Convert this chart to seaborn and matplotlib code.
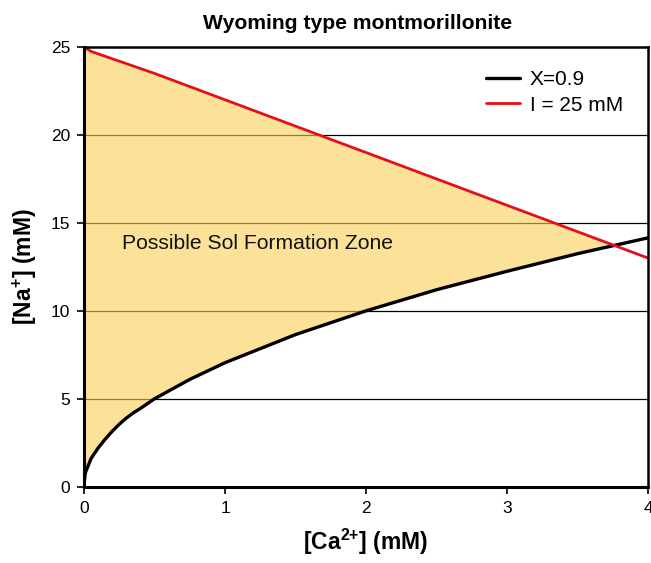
import numpy as np
import matplotlib
matplotlib.use("Agg")
import matplotlib.pyplot as plt
import seaborn as sns

# Calcium concentration (mM) and sodium concentration (mM) along X = 0.9
ca_x09 = [0, 0.005, 0.01, 0.02, 0.05, 0.1, 0.15, 0.2, 0.25, 0.3, 0.35, 0.4,
          0.5, 0.75, 1.0, 1.5, 2.0, 2.5, 3.0, 3.5, 4.0]
na_x09 = [0, 0.5, 0.8, 1.0, 1.6, 2.2, 2.7, 3.15, 3.55, 3.9, 4.2, 4.45,
          5.0, 6.1, 7.05, 8.65, 10.0, 11.2, 12.25, 13.25, 14.15]

# Ionic strength line, I = 25 mM
ca_i25 = [0, 0.05, 0.5, 1.0, 1.5, 2.0, 2.5, 3.0, 3.5, 4.0]
na_i25 = [25, 24.75, 23.5, 22.0, 20.5, 19.0, 17.5, 16.0, 14.5, 13.0]

x_ticks = [0, 1, 2, 3, 4]
y_ticks = [0, 5, 10, 15, 20, 25]

sns.set_theme(style="ticks")
plt.rcParams["font.family"] = ["Liberation Sans", "DejaVu Sans"]
plt.rcParams.update({
    "text.color": "black",
    "axes.labelcolor": "black",
    "xtick.color": "black",
    "ytick.color": "black",
    "mathtext.fontset": "custom",
    "mathtext.rm": "Liberation Sans",
    "mathtext.bf": "Liberation Sans:bold",
    "mathtext.it": "Liberation Sans:italic",
})

fig = plt.figure(figsize=(6.51, 5.63), dpi=100)
ax = fig.add_axes([0.129, 0.1355, 0.8665, 0.781])

# horizontal gridlines under the shaded zone
for yv in y_ticks[1:-1]:
    ax.axhline(yv, color="black", lw=0.9, zorder=0)

# shaded zone between the two curves
xs = np.array(ca_x09, dtype=float)
lower = np.array(na_x09, dtype=float)
upper = np.interp(xs, ca_i25, na_i25)
ax.fill_between(xs, lower, upper, where=upper >= lower, interpolate=True,
                color="#FACF53", alpha=0.6, lw=0, zorder=1)

sns.lineplot(x=ca_x09, y=na_x09, ax=ax, color="black", lw=2.4,
             label="X=0.9", zorder=3, sort=False)
sns.lineplot(x=ca_i25, y=na_i25, ax=ax, color="#E3101A", lw=2.0,
             label="I = 25 mM", zorder=3, sort=False)

ax.text(0.27, 13.85, "Possible Sol Formation Zone", fontsize=15.2,
        va="center", ha="left", color="#111111", zorder=4)

ax.set_xlim(0, 4)
ax.set_ylim(0, 25)
ax.set_xticks(x_ticks)
ax.set_yticks(y_ticks)
ax.tick_params(axis="both", labelsize=12.5, direction="out", length=5,
               width=1.2, color="black", bottom=True, left=True,
               top=False, right=False, pad=5)
for side in ["left", "bottom", "top", "right"]:
    ax.spines[side].set_visible(True)
    ax.spines[side].set_color("black")
    ax.spines[side].set_linewidth(2.2 if side in ("left", "bottom") else 1.8)
    ax.spines[side].set_zorder(5)

ax.set_title("Wyoming type montmorillonite", fontsize=15.2, fontweight="bold",
             pad=13, color="black", x=0.485)
ax.set_xlabel("[Ca$^{\\mathbf{2{+}}}$] (mM)", fontsize=16.5, fontweight="bold",
              labelpad=8)
ax.set_ylabel("[Na$^{\\mathbf{{+}}}$] (mM)", fontsize=16.5, fontweight="bold",
              labelpad=8)

leg = ax.legend(loc="upper left", bbox_to_anchor=(0.713, 0.947), frameon=False,
                fontsize=15, handlelength=1.6, handletextpad=0.5,
                labelspacing=0.3, borderpad=0, borderaxespad=0)

fig.savefig("out.png", dpi=100)
